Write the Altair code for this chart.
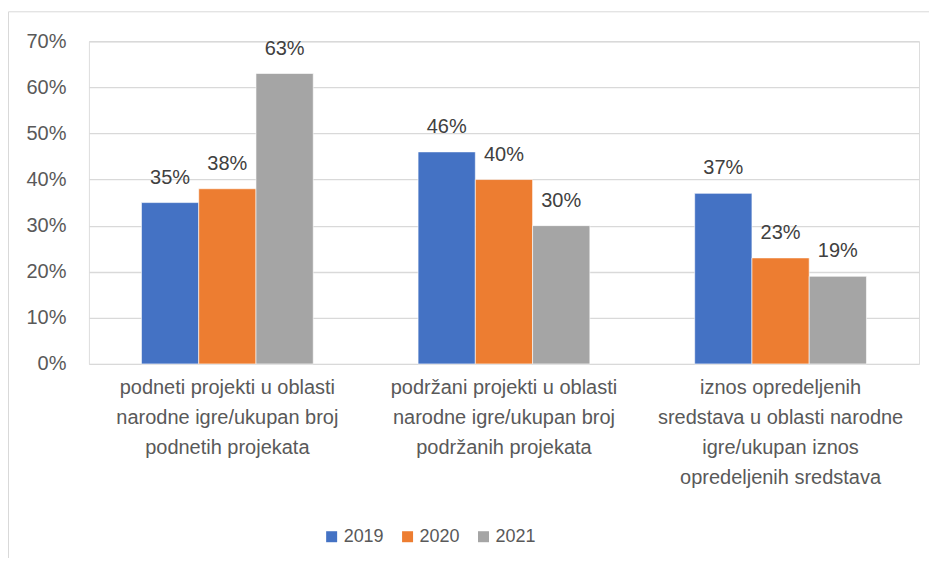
import altair as alt
import pandas as pd

categories = [
    "podneti projekti u oblasti|narodne igre/ukupan broj|podnetih projekata",
    "podržani projekti u oblasti|narodne igre/ukupan broj|podržanih projekata",
    "iznos opredeljenih|sredstava u oblasti narodne|igre/ukupan iznos|opredeljenih sredstava",
]
years = ["2019", "2020", "2021"]
v2019 = [0.35, 0.46, 0.37]
v2020 = [0.38, 0.40, 0.23]
v2021 = [0.63, 0.30, 0.19]
colors = ["#4472C4", "#ED7D31", "#A5A5A5"]

rows = []
for yr, vals in zip(years, [v2019, v2020, v2021]):
    for c, v in zip(categories, vals):
        rows.append({"cat": c, "year": yr, "value": v})
df = pd.DataFrame(rows)

FONT = "Liberation Sans"

x = alt.X(
    "cat:N",
    sort=categories,
    title=None,
    scale=alt.Scale(paddingInner=0.379, paddingOuter=0.19),
    axis=alt.Axis(
        labelExpr="split(datum.label, '|')",
        labelAngle=0,
        labelLimit=400,
        labelOverlap=False,
        labelLineHeight=30,
        labelPadding=14,
        labelFontSize=20,
        labelColor="#595959",
        labelFont=FONT,
        ticks=False,
        domain=False,
        grid=False,
    ),
)
xo = alt.XOffset("year:N", sort=years, scale=alt.Scale(paddingInner=0, paddingOuter=0))
y = alt.Y(
    "value:Q",
    title=None,
    scale=alt.Scale(domain=[0, 0.7], nice=False),
    axis=alt.Axis(
        values=[0, 0.1, 0.2, 0.3, 0.4, 0.5, 0.6, 0.7],
        format=".0%",
        labelFontSize=20,
        labelColor="#595959",
        labelFont=FONT,
        labelPadding=23,
        ticks=False,
        domain=False,
        grid=True,
        gridColor="#d9d9d9",
        gridWidth=1.3,
    ),
)

base = alt.Chart(df)

bars = base.mark_bar(stroke="white", strokeWidth=0.6).encode(
    x=x,
    xOffset=xo,
    y=y,
    color=alt.Color(
        "year:N",
        sort=years,
        scale=alt.Scale(domain=years, range=colors),
        legend=alt.Legend(
            title=None,
            orient="none",
            direction="horizontal",
            legendX=234,
            legendY=487,
            symbolType="square",
            symbolSize=121,
            symbolStrokeWidth=0,
            labelFontSize=18,
            labelColor="#595959",
            labelFont=FONT,
            labelOffset=3,
            columnPadding=14,
        ),
    ),
)

labels = base.mark_text(
    baseline="alphabetic", dy=-19, fontSize=20, color="#404040", font=FONT
).encode(
    x=x,
    xOffset=xo,
    y=alt.Y("value:Q", scale=alt.Scale(domain=[0, 0.7], nice=False)),
    text=alt.Text("value:Q", format=".0%"),
)

frame = alt.Chart(alt.Data(values=[{"f": 1}])).mark_rect(
    fill=None, stroke="#d9d9d9", strokeWidth=1
).encode(
    x=alt.value(-80.5), x2=alt.value(1000), y=alt.value(-29.5), y2=alt.value(700)
)

chart = alt.layer(frame, bars, labels).properties(
    width=831,
    height=323,
    autosize=alt.AutoSizeParams(type="none"),
    padding={"left": 81, "top": 33, "right": 10, "bottom": 194},
).configure_view(stroke=None).configure(background="white")

chart.save("out.html", embed_options={"renderer": "svg", "actions": False})
